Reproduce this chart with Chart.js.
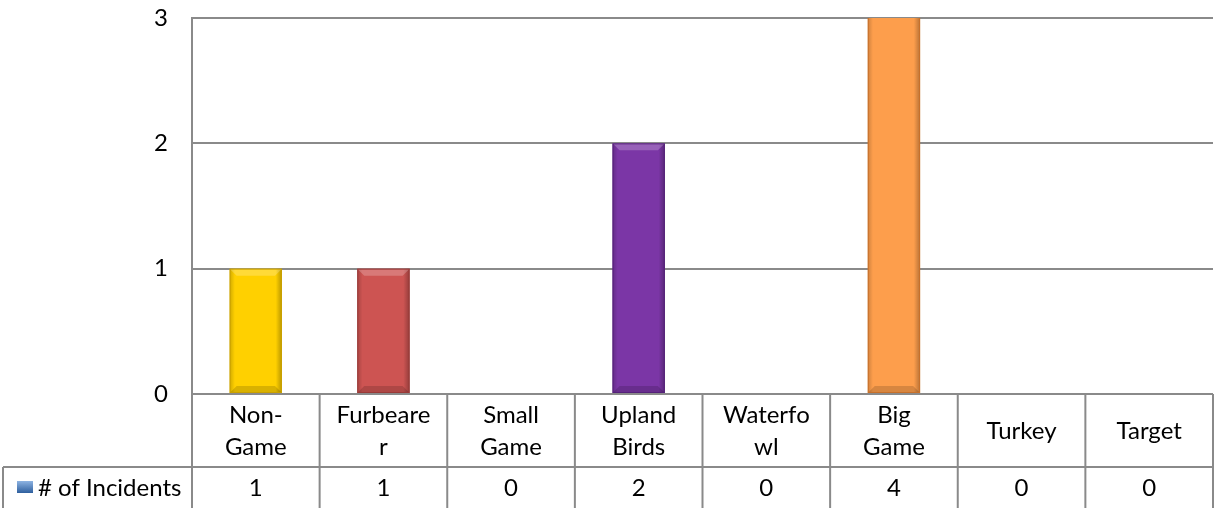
<!DOCTYPE html>
<html>
<head>
<meta charset="utf-8">
<script src="https://cdn.jsdelivr.net/npm/chart.js@4.4.1/dist/chart.umd.min.js"></script>
<style>
  html, body { margin: 0; padding: 0; background: #fff; }
  #wrap { width: 1214px; height: 508px; }
</style>
</head>
<body>
<div id="wrap"><canvas id="incidentes"></canvas></div>
<script>
// categorias tal como salen partidas en la tabla
const categorias = [
  ["Non-", "Game"], ["Furbeare", "r"], ["Small", "Game"], ["Upland", "Birds"],
  ["Waterfo", "wl"], ["Big", "Game"], ["Turkey"], ["Target"]
];
const serieNombre = "# of Incidents";
const incidentes = [1, 1, 0, 2, 0, 4, 0, 0];
const ticksY = [0, 1, 2, 3];
const colores = ["#FFD000", "#CD5452", "#8A8A8A", "#7B36A6", "#8A8A8A", "#FD9E4C", "#8A8A8A", "#8A8A8A"];
const oscuros = ["#C9A000", "#9A3A38", "#666", "#55217A", "#666", "#C8702A", "#666", "#666"];

const FUENTE = "Lato, 'Open Sans', sans-serif";
const GRIS = "#8A8A8A";
const TAM = 24;

// relieve de las barras (estilo biselado de Excel)
const bisel = {
  id: "bisel",
  afterDatasetsDraw(chart) {
    const ctx = chart.ctx;
    const area = chart.chartArea;
    ctx.save();
    ctx.beginPath();
    ctx.rect(area.left, area.top, area.right - area.left, area.bottom - area.top);
    ctx.clip();
    chart.getDatasetMeta(0).data.forEach((bar, i) => {
      if (incidentes[i] === 0) return;
      const w = bar.width, x0 = bar.x - w / 2, x1 = bar.x + w / 2;
      const top = bar.y, bot = bar.base, b = 7;
      // bordes laterales
      let g = ctx.createLinearGradient(x0, 0, x1, 0);
      g.addColorStop(0, "rgba(0,0,0,0.18)");
      g.addColorStop(0.1, "rgba(0,0,0,0)");
      g.addColorStop(0.88, "rgba(0,0,0,0)");
      g.addColorStop(1, "rgba(0,0,0,0.28)");
      ctx.fillStyle = g;
      ctx.fillRect(x0, top, w, bot - top);
      // bisel superior
      ctx.fillStyle = "rgba(255,255,255,0.22)";
      ctx.beginPath();
      ctx.moveTo(x0, top); ctx.lineTo(x1, top); ctx.lineTo(x1 - b, top + b); ctx.lineTo(x0 + b, top + b);
      ctx.closePath(); ctx.fill();
      // bisel inferior
      ctx.fillStyle = "rgba(0,0,0,0.15)";
      ctx.beginPath();
      ctx.moveTo(x0, bot); ctx.lineTo(x1, bot); ctx.lineTo(x1 - b, bot - b); ctx.lineTo(x0 + b, bot - b);
      ctx.closePath(); ctx.fill();
      ctx.strokeStyle = oscuros[i];
      ctx.lineWidth = 1;
      ctx.strokeRect(x0 + 0.5, top + 0.5, w - 1, bot - top - 1);
    });
    ctx.restore();
  }
};

// tabla de datos debajo del grafico
const tablaDatos = {
  id: "tablaDatos",
  afterDraw(chart) {
    const ctx = chart.ctx;
    const x = chart.scales.x;
    const area = chart.chartArea;
    const filaTop = area.bottom;
    const filaMedio = filaTop + 73;
    const fondo = chart.height + 2;
    const izq = 3;
    const paso = x.getPixelForValue(1) - x.getPixelForValue(0);
    ctx.save();
    ctx.strokeStyle = GRIS;
    ctx.lineWidth = 2;
    ctx.beginPath();
    // lineas verticales entre categorias
    for (let i = 0; i <= categorias.length; i++) {
      const px = i < categorias.length ? x.getPixelForValue(i) - paso / 2 : area.right;
      ctx.moveTo(px, filaTop); ctx.lineTo(px, fondo);
    }
    ctx.moveTo(izq, filaMedio); ctx.lineTo(area.right, filaMedio);
    ctx.moveTo(izq, filaMedio); ctx.lineTo(izq, fondo);
    ctx.stroke();

    ctx.fillStyle = "#000";
    ctx.font = TAM + "px " + FUENTE;
    ctx.textAlign = "center";
    ctx.textBaseline = "middle";
    categorias.forEach((lineas, i) => {
      const cx = x.getPixelForValue(i);
      const alto = 32;
      const y0 = filaTop + 37 - (lineas.length - 1) * alto / 2;
      lineas.forEach((t, k) => ctx.fillText(t, cx, y0 + k * alto));
      ctx.fillText(String(incidentes[i]), cx, filaMedio + 21);
    });

    // leyenda de la serie
    const ly = filaMedio + 20;
    let g = ctx.createLinearGradient(0, ly - 6, 0, ly + 6);
    g.addColorStop(0, "#8DB3E2");
    g.addColorStop(1, "#2E5F9E");
    ctx.fillStyle = g;
    ctx.fillRect(17, ly - 6, 16, 12);
    ctx.fillStyle = "#000";
    ctx.textAlign = "left";
    ctx.fillText(serieNombre, 38, ly + 1);
    ctx.restore();
  }
};

new Chart(document.getElementById("incidentes"), {
  type: "bar",
  data: {
    labels: categorias,
    datasets: [{
      label: serieNombre,
      data: incidentes,
      backgroundColor: colores,
      borderWidth: 0,
      barPercentage: 0.41,
      categoryPercentage: 1
    }]
  },
  options: {
    responsive: true,
    maintainAspectRatio: false,
    animation: false,
    layout: { padding: { top: 18, bottom: 114, right: 1, left: 0 } },
    plugins: { legend: { display: false }, tooltip: { enabled: false } },
    scales: {
      x: { display: false },
      y: {
        min: 0, max: 3,
        afterFit(scale) {
          scale.width = 192;
          scale.paddingTop = 0;
          scale.paddingBottom = 0;
        },
        afterBuildTicks(scale) { scale.ticks = ticksY.map(v => ({ value: v })); },
        ticks: { stepSize: 1, padding: 24, color: "#000", font: { family: FUENTE, size: TAM } },
        grid: { color: GRIS, lineWidth: 2, drawTicks: false },
        border: { display: true, color: GRIS, width: 2 }
      }
    }
  },
  plugins: [bisel, tablaDatos]
});
</script>
</body>
</html>
